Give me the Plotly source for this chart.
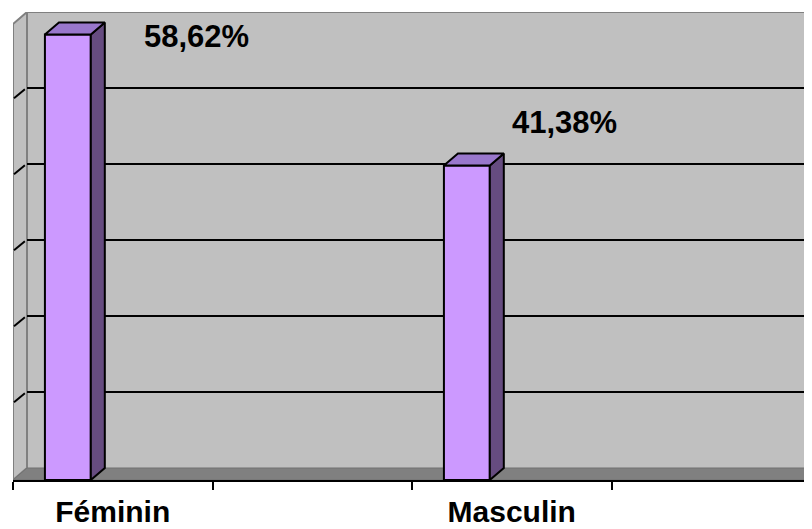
import plotly.graph_objects as go

# ---- data ----
categories = ["Féminin", "Masculin"]
values = [58.62, 41.38]
value_labels = ["58,62%", "41,38%"]
gridline_values = [10, 20, 30, 40, 50]
y_max_value = 60

# ---- layout / style constants ----
# page body has an 8px default margin, so the figure is 8px smaller and offsets reduced by 8
W, H = 804, 521
ML, MR, MT, MB = 5, 0, 4, 49
X_MAX = 4.005            # x axis units (tick spacing = 1)
DEPTH_Y = 1.579          # 3D depth offset in value units
DEPTH_X = 0.0702         # 3D depth offset in x units
CAT_POS = [0.5, 2.5]
BAR_SHIFT = -0.225
BAR_WIDTH = 0.23
LABEL_DX = [0.644, 0.488]
LABEL_DY = [-1.8, 4.1]
FONT = "Liberation Sans, Arial, sans-serif"

FRONT = "#CC99FF"
SIDE = "#664C80"
TOP = "#9977CC"
WALL = "#C0C0C0"
FLOOR = "#808080"
EDGE = "#808080"

fig = go.Figure()

bar_x = [p + BAR_SHIFT for p in CAT_POS]

# front faces
fig.add_trace(go.Bar(
    x=bar_x, y=values, base=-DEPTH_Y, width=BAR_WIDTH,
    marker=dict(color=FRONT, line=dict(color="black", width=2)),
    hoverinfo="skip", showlegend=False,
))

# side and top faces
for xc, v in zip(bar_x, values):
    x0 = xc - BAR_WIDTH / 2
    x1 = xc + BAR_WIDTH / 2
    fig.add_trace(go.Scatter(
        x=[x1, x1 + DEPTH_X, x1 + DEPTH_X, x1, x1],
        y=[-DEPTH_Y, 0, v, v - DEPTH_Y, -DEPTH_Y],
        mode="lines", fill="toself", fillcolor=SIDE,
        line=dict(color="black", width=2), hoverinfo="skip", showlegend=False,
    ))
    fig.add_trace(go.Scatter(
        x=[x0, x1, x1 + DEPTH_X, x0 + DEPTH_X, x0],
        y=[v - DEPTH_Y, v - DEPTH_Y, v, v, v - DEPTH_Y],
        mode="lines", fill="toself", fillcolor=TOP,
        line=dict(color="black", width=2), hoverinfo="skip", showlegend=False,
    ))

shapes = []
# back wall
shapes.append(dict(type="rect", xref="x", yref="y", x0=DEPTH_X, x1=X_MAX, y0=0, y1=y_max_value,
                   fillcolor=WALL, line=dict(width=0), layer="below"))
shapes.append(dict(type="line", xref="x", yref="y", x0=DEPTH_X, x1=X_MAX, y0=y_max_value, y1=y_max_value,
                   line=dict(color=EDGE, width=2), layer="below"))
shapes.append(dict(type="line", xref="x", yref="y", x0=DEPTH_X, x1=DEPTH_X, y0=0, y1=y_max_value,
                   line=dict(color=EDGE, width=2), layer="below"))
# side wall
shapes.append(dict(type="path", xref="x", yref="y",
                   path=f"M 0,{-DEPTH_Y} L {DEPTH_X},0 L {DEPTH_X},{y_max_value} L 0,{y_max_value - DEPTH_Y} Z",
                   fillcolor=WALL, line=dict(color=EDGE, width=2), layer="below"))
# floor
shapes.append(dict(type="path", xref="x", yref="y",
                   path=f"M 0,{-DEPTH_Y} L {DEPTH_X},0 L {X_MAX},0 L {X_MAX},{-DEPTH_Y} Z",
                   fillcolor=FLOOR, line=dict(color="#707070", width=1), layer="below"))
# gridlines
for g in gridline_values:
    shapes.append(dict(type="line", xref="x", yref="y", x0=DEPTH_X, x1=X_MAX, y0=g, y1=g,
                       line=dict(color="black", width=2), layer="below"))
    shapes.append(dict(type="line", xref="x", yref="y", x0=0.005, x1=DEPTH_X * 0.85,
                       y0=g - DEPTH_Y * 0.85, y1=g - DEPTH_Y * 0.1,
                       line=dict(color="black", width=2), layer="below"))

annotations = []
for xc, v, t, dx, dy in zip(bar_x, values, value_labels, LABEL_DX, LABEL_DY):
    annotations.append(dict(x=xc + dx, y=v + dy, xref="x", yref="y", text=f"<b>{t}</b>",
                            showarrow=False, font=dict(family=FONT, size=31, color="black"),
                            xanchor="center", yanchor="middle"))

fig.update_layout(
    width=W, height=H,
    margin=dict(l=ML, r=MR, t=MT, b=MB, pad=0, autoexpand=False),
    paper_bgcolor="white", plot_bgcolor="white",
    shapes=shapes, annotations=annotations,
    showlegend=False,
    xaxis=dict(
        range=[0, X_MAX], showgrid=False, zeroline=False, automargin=False,
        showline=True, linecolor="black", linewidth=2,
        tickvals=CAT_POS, ticktext=[f"<b>{c}</b>" for c in categories],
        ticks="", tickfont=dict(family=FONT, size=30, color="black"),
        ticklabelstandoff=4,
        minor=dict(tickvals=[0, 1, 2, 3, 4], ticks="outside", ticklen=8,
                   tickwidth=2, tickcolor="black", showgrid=False),
    ),
    yaxis=dict(range=[-DEPTH_Y, y_max_value], showgrid=False, zeroline=False, automargin=False,
               showticklabels=False, ticks="", showline=False),
)

fig.write_html("out.html")
